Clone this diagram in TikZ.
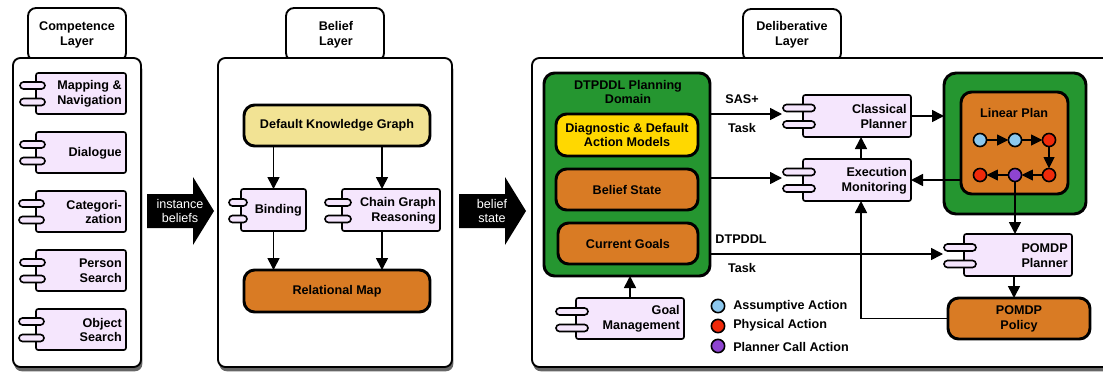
\documentclass[tikz,border=0pt]{standalone}
\usepackage{fontspec}
\setmainfont{Liberation Sans}
\usetikzlibrary{arrows.meta,shadows}
\definecolor{compfill}{HTML}{F5E6FD}
\definecolor{kgfill}{HTML}{F2E394}
\definecolor{orangefill}{HTML}{D97B24}
\definecolor{greenfill}{HTML}{259630}
\definecolor{goldfill}{HTML}{FFD800}
\definecolor{bluedot}{HTML}{8CC8EE}
\definecolor{reddot}{HTML}{F02A0A}
\definecolor{purpledot}{HTML}{8E44D0}
\tikzset{
  x=0.75pt,y=-0.75pt,
  softshadow/.style={drop shadow={shadow xshift=1pt,shadow yshift=-3.2pt,fill=black,opacity=0.6}},
  panel/.style={draw=black,line width=1.4pt,fill=white,rounded corners=5.5pt,softshadow},
  tabbox/.style={draw=black,line width=1.4pt,fill=white,rounded corners=6pt},
  comp/.style={draw=black,line width=1.2pt,fill=compfill,rounded corners=1.6pt},
  lug/.style={draw=black,line width=1.2pt,fill=compfill,rounded corners=2.6pt},
  store/.style={draw=black,line width=2.2pt,rounded corners=8pt},
  lbl/.style={font=\bfseries\fontsize{9.45}{11.2}\selectfont,text=black,inner sep=0pt,align=center},
  rlbl/.style={font=\bfseries\fontsize{9.45}{11.2}\selectfont,text=black,inner sep=0pt,align=right},
  arr/.style={draw=black,line width=1.2pt,-{Triangle[length=9pt,width=9pt]}},
  arrs/.style={draw=black,line width=1.2pt,-{Triangle[length=8.5pt,width=8pt]}},
  dot/.style={circle,draw=black,line width=1.2pt,minimum size=9.8pt,inner sep=0pt,outer sep=0pt},
  bigarrow/.style={fill=black,draw=none},
  wlbl/.style={font=\fontsize{9.45}{11.2}\selectfont,text=white,inner sep=0pt,align=center},
}
% name, x1, y1, x2, y2, lug x1, lug y-base, lug width, text
\newcommand{\compbox}[9]{%
  \node[comp,anchor=north west,outer sep=0pt,minimum width=#4*0.75pt-#2*0.75pt-1.5pt,minimum height=#5*0.75pt-#3*0.75pt-1.5pt,inner sep=0pt] (#1) at (#2+1,#3+1) {};
  \draw[lug] (#6+1,#7+6) rectangle (#6+#8-1,#7+13);
  \draw[lug] (#6+1,#7+22.5) rectangle (#6+#8-1,#7+29.5);
  \node[rlbl,anchor=east] at (#4-5,#3*0.5+#5*0.5+0.5) {#9};
}
\newcommand{\boxnode}[7]{% name style x1 y1 x2 y2 text
  \node[#2,anchor=north west,outer sep=0pt,minimum width=#5*0.75pt-#3*0.75pt-1.5pt,minimum height=#6*0.75pt-#4*0.75pt-1.5pt,inner sep=0pt,lbl] (#1) at (#3+1,#4+1) {#7};
}
\begin{document}
\begin{tikzpicture}
\useasboundingbox (0,0) rectangle (1103,372);
\fill[white] (0,0) rectangle (1103,372);
% Competence layer
\boxnode{tabA}{tabbox}{27}{7}{127}{62}{}
\node[lbl] (tabAt) at (77,35) {Competence\\Layer};
\boxnode{panelA}{panel}{12}{57}{142}{368}{}
\compbox{map}{35}{72}{127}{115}{19}{76}{27}{Mapping \&\\Navigation}
\compbox{dial}{35}{131}{127}{174}{19}{135}{27}{Dialogue}
\compbox{categ}{35}{190}{127}{233}{18}{194}{27}{Categori-\\zation}
\compbox{person}{35}{249}{127}{292}{19}{253}{27}{Person\\Search}
\compbox{object}{35}{308}{127}{351}{18}{312}{27}{Object\\Search}
% Arrow 1
\path[bigarrow] (147,194) -- (193,194) -- (193,177) -- (214,211) -- (193,245) -- (193,228) -- (147,228) -- cycle;
\node[wlbl] (ib) at (180,211) {instance\\beliefs};
% Belief layer
\boxnode{tabB}{tabbox}{285}{7}{385}{62}{}
\node[lbl] (tabBt) at (336,35) {Belief\\Layer};
\boxnode{panelB}{panel}{217}{57}{453}{368}{}
\boxnode{kg}{store,fill=kgfill}{243}{104}{431}{147}{Default Knowledge Graph}
\compbox{bind}{240}{188}{307}{232}{228}{193}{20}{Binding}
\compbox{chain}{341}{188}{441}{232}{324}{193}{28}{Chain Graph\\Reasoning}
\boxnode{rmap}{store,fill=orangefill}{243}{269}{431}{313}{Relational Map}
\draw[arr] (kg.south -| bind.south) -- (bind.north);
\draw[arr] ([xshift=-6.75pt]kg.south -| chain.south) -- ([xshift=-6.75pt]chain.north);
\draw[arr] (bind.south) -- (bind.south |- rmap.north);
\draw[arr] ([xshift=-6.75pt]chain.south) -- ([xshift=-6.75pt]chain.south |- rmap.north);
% Arrow 2
\path[bigarrow] (459,194) -- (505,194) -- (505,177) -- (526,211) -- (505,245) -- (505,228) -- (459,228) -- cycle;
\node[wlbl] (bs) at (492,211) {belief\\state};
% Deliberative layer
\boxnode{tabC}{tabbox}{742}{8}{842}{62}{}
\node[lbl] (tabCt) at (792,35) {Deliberative\\Layer};
\boxnode{panelC}{panel}{531}{57}{1115}{368}{}
\boxnode{domain}{store,fill=greenfill}{543}{72}{711}{277}{}
\node[lbl] (domaint) at (628,92) {DTPDDL Planning\\Domain};
\boxnode{diag}{store,fill=goldfill}{555}{113}{699}{157}{Diagnostic \& Default\\Action Models}
\boxnode{bstate}{store,fill=orangefill}{555}{168}{699}{211}{Belief State}
\boxnode{goals}{store,fill=orangefill}{557}{222}{699}{265}{Current Goals}
\compbox{gm}{575}{297}{685}{340}{555}{302}{34}{Goal\\Management}
\compbox{cp}{802}{94}{912}{138}{782}{98.5}{34}{Classical\\Planner}
\compbox{em}{802}{158}{912}{202}{782}{162.5}{34}{Execution\\Monitoring}
\boxnode{planout}{store,fill=greenfill,rounded corners=9pt}{943}{72}{1087}{215}{}
\boxnode{planin}{store,fill=orangefill}{960}{91}{1069}{195}{}
\node[lbl] (plant) at (1014,113) {Linear Plan};
\node[dot,fill=bluedot] (p1) at (980,140) {};
\node[dot,fill=bluedot] (p2) at (1015,140) {};
\node[dot,fill=reddot] (p3) at (1049,140) {};
\node[dot,fill=reddot] (p4) at (1049,175) {};
\node[dot,fill=purpledot] (p5) at (1015,175) {};
\node[dot,fill=reddot] (p6) at (980,175) {};
\compbox{pp}{963}{233}{1073}{277}{943}{238}{34}{POMDP\\Planner}
\boxnode{policy}{store,fill=orangefill}{947}{297}{1091}{340}{POMDP\\Policy}
% Connectors
\coordinate (sasl) at (782,114);
\coordinate (exl) at (782,178);
\coordinate (ddl) at (943,254);
\draw[arr] (domain.east |- sasl) -- (sasl);
\draw[arr] (domain.east |- exl) -- (exl);
\draw[arr] (domain.east |- ddl) -- (ddl);
\node[lbl] (l1) at (742,99) {SAS+};
\node[lbl] (l2) at (742,128) {Task};
\node[lbl] (l3) at (741,239) {DTPDDL};
\node[lbl] (l4) at (742,268) {Task};
\draw[arr] (cp.east) -- (cp.east -| planout.west);
\draw[arr] (planin.west |- em.east) -- (em.east);
\draw[arr] ([xshift=3pt]em.north) -- ([xshift=3pt]cp.south);
\draw[arr] (policy.west) -| ([xshift=3pt]em.south);
\draw[arr] (p5.south) -- (p5.south |- pp.north);
\draw[arr] ([xshift=-3pt]pp.south) -- ([xshift=-3pt]pp.south |- policy.north);
\draw[arr] (gm.north) -- (gm.north |- domain.south);
\draw[arrs] (p1) -- (p2);
\draw[arrs] (p2) -- (p3);
\draw[arrs] (p3) -- (p4);
\draw[arrs] (p4) -- (p5);
\draw[arrs] (p5) -- (p6);
% Legend
\node[dot,fill=bluedot,minimum size=10pt] (la) at (718,306) {};
\node[dot,fill=reddot,minimum size=10pt] (lb) at (718,326) {};
\node[dot,fill=purpledot,minimum size=10pt] (lc) at (718,346) {};
\node[lbl,anchor=west] at (733,306.5) {Assumptive Action};
\node[lbl,anchor=west] at (733,325.5) {Physical Action};
\node[lbl,anchor=west] at (733,346.5) {Planner Call Action};
\end{tikzpicture}
\end{document}
